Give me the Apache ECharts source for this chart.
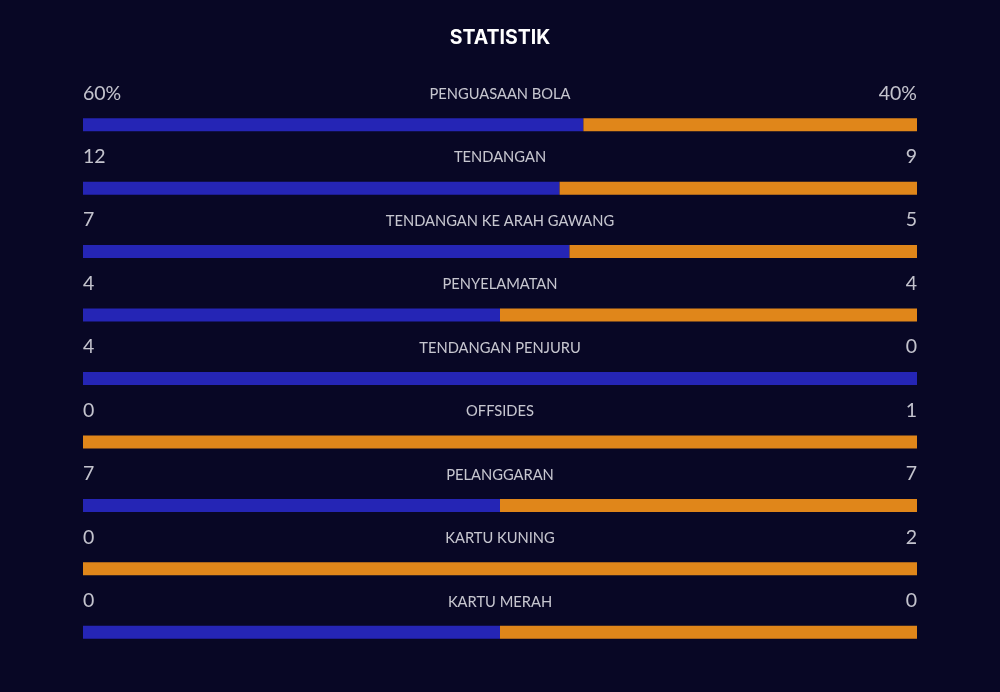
<!DOCTYPE html>
<html>
<head>
<meta charset="utf-8">
<script src="https://cdn.jsdelivr.net/npm/echarts@6/dist/echarts.min.js"></script>
<style>
html,body{margin:0;padding:0;background:#080725;}
#chart{width:1000px;height:692px;}
</style>
</head>
<body>
<div id="chart"></div>
<script>
var categories = ['PENGUASAAN BOLA','TENDANGAN','TENDANGAN KE ARAH GAWANG','PENYELAMATAN','TENDANGAN PENJURU','OFFSIDES','PELANGGARAN','KARTU KUNING','KARTU MERAH'];
var homeValues = [60, 12, 7, 4, 4, 0, 7, 0, 0];
var awayValues = [40, 9, 5, 4, 0, 1, 7, 2, 0];
var valueSuffix = ['%', '', '', '', '', '', '', '', ''];

var homeShare = homeValues.map(function(h, i){ var t = h + awayValues[i]; return t === 0 ? 0.5 : h / t; });
var awayShare = homeShare.map(function(s){ return 1 - s; });

var chart = echarts.init(document.getElementById('chart'), null, {renderer:'canvas'});
var labelBase = {show:true, color:'#f2f2f7', fontFamily:'Lato', fontSize:19.5};
chart.setOption({
  backgroundColor:'#080725',
  animation:false,
  title:{text:'STATISTIK', left:'center', top:23, textStyle:{color:'#ffffff', fontFamily:'Inter', fontWeight:'bold', fontSize:19.5}},
  grid:{left:83, right:83, top:93, height:571},
  xAxis:{type:'value', min:0, max:1, show:false},
  yAxis:{type:'category', data:categories, inverse:true, show:false},
  series:[
    {type:'bar', stack:'s', data:homeShare, barWidth:13, itemStyle:{color:'#2525b5'}, silent:true},
    {type:'bar', stack:'s', data:awayShare, barWidth:13, itemStyle:{color:'#e0861a'}, silent:true},
    {type:'scatter', symbolSize:0, data:categories.map(function(c,i){return [0,i];}),
      label:Object.assign({}, labelBase, {position:'right', distance:0, offset:[0,-31.5],
        formatter:function(p){ return homeValues[p.dataIndex] + valueSuffix[p.dataIndex]; }})},
    {type:'scatter', symbolSize:0, data:categories.map(function(c,i){return [1,i];}),
      label:Object.assign({}, labelBase, {position:'left', distance:0, offset:[0,-31.5],
        formatter:function(p){ return awayValues[p.dataIndex] + valueSuffix[p.dataIndex]; }})},
    {type:'scatter', symbolSize:0, data:categories.map(function(c,i){return [0.5,i];}),
      label:Object.assign({}, labelBase, {position:'inside', offset:[0,-30.5], fontSize:14.7, color:'#f6f6fa',
        formatter:function(p){ return categories[p.dataIndex]; }})}
  ]
});
</script>
</body>
</html>
